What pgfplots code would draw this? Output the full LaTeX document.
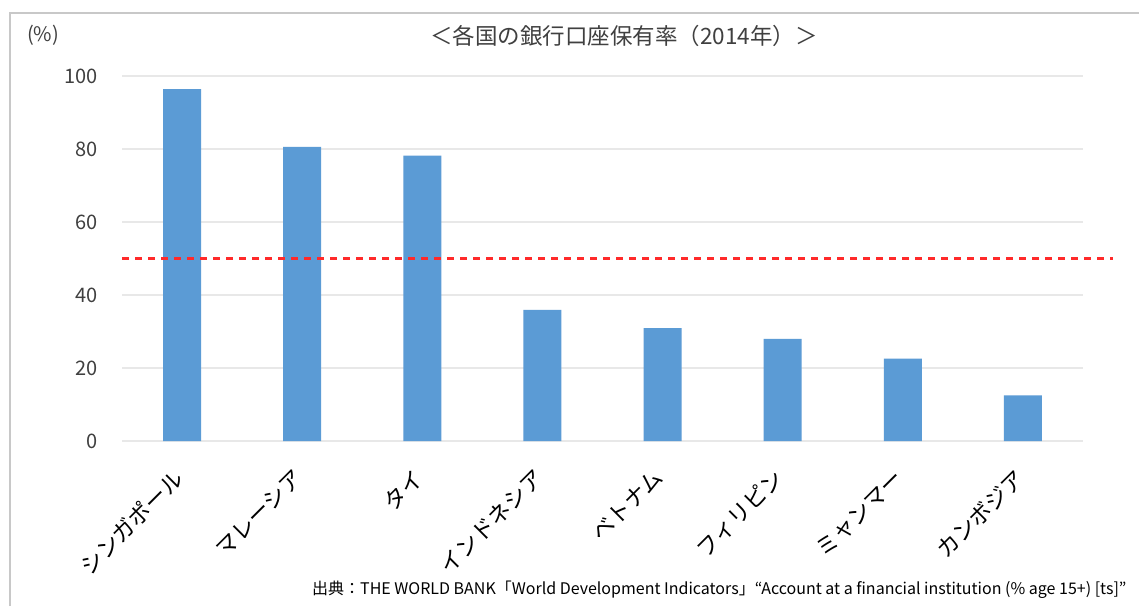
\documentclass[border=0pt]{standalone}
\usepackage{fontspec}
\setmainfont{Noto Sans CJK JP}
\usepackage{pgfplots}
\pgfplotsset{compat=1.18}
\definecolor{barblue}{HTML}{5B9BD5}
\definecolor{gridgray}{HTML}{E8E8E8}
\definecolor{framegray}{HTML}{C8C8C8}
\definecolor{ticktext}{HTML}{404040}
\definecolor{refred}{HTML}{FF2A2A}
\begin{document}
\begin{tikzpicture}[x=1pt,y=1pt]
\useasboundingbox (0,0) rectangle (1139,606);
\fill[white] (0,0) rectangle (1139,606);
\draw[framegray, line width=1.2pt] (10,0) -- (10,593) -- (1139,593);
\begin{axis}[
  at={(122pt,165pt)}, anchor=south west,
  scale only axis, width=961pt, height=365pt,
  xmin=-0.5, xmax=7.5, ymin=0, ymax=100,
  axis line style={draw=none},
  ytick={0,20,40,60,80,100},
  ymajorgrids, grid style={gridgray, line width=1.2pt},
  major tick length=0pt,
  xtick={0,1,2,3,4,5,6,7},
  xticklabels={シンガポール,マレーシア,タイ,インドネシア,ベトナム,フィリピン,ミャンマー,カンボジア},
  xticklabel style={xshift=-10pt, yshift=-26pt, rotate=45, anchor=north east, inner sep=0pt, font=\fontsize{22.5}{22.5}\selectfont, text=black},
  yticklabel style={anchor=east, inner sep=0pt, xshift=-24pt, font=\fontsize{20}{20}\selectfont, text=ticktext},
  /pgf/number format/assume math mode=true,
  clip=false,
]
\addplot[ybar, bar width=38pt, fill=barblue, draw=none] coordinates {
  (0,96.4) (1,80.6) (2,78.2) (3,35.9) (4,30.9) (5,28.0) (6,22.6) (7,12.5)};
\addplot[refred, line width=2.2pt, dash pattern=on 7pt off 6pt] coordinates {(-0.5,50) (7.75,50)};
\end{axis}
\node[text=ticktext, font=\fontsize{20}{20}\selectfont] at (43,571) {(\%)};
\node[text=ticktext, font=\fontsize{22.5}{22.5}\selectfont] at (624,570) {＜各国の銀行口座保有率（2014年）＞};
\node[anchor=west, inner sep=0pt, text=black, font=\fontsize{16}{16}\selectfont] at (312,16) {出典：THE WORLD BANK「World Development Indicators」“Account at a financial institution (\% age 15+) [ts]”};
\end{tikzpicture}
\end{document}
